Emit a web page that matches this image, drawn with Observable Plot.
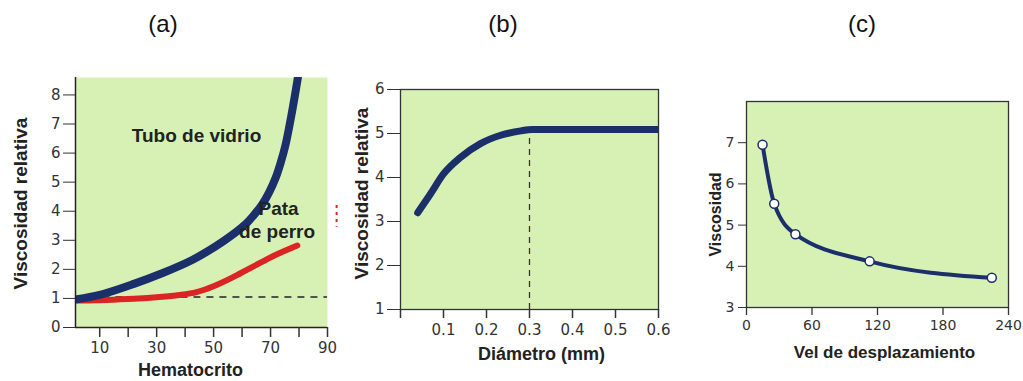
<!DOCTYPE html>
<html>
<head>
<meta charset="utf-8">
<script src="https://cdn.jsdelivr.net/npm/d3@7"></script>
<script src="https://cdn.jsdelivr.net/npm/@observablehq/plot@0.6"></script>
<style>
  body { margin: 0; background: #fff; }
  #wrap { position: relative; width: 1023px; height: 381px; overflow: hidden; font-family: "Liberation Sans", Arial, sans-serif; }
  .title { position: absolute; top: 10px; font-size: 24px; color: #111; transform: translateX(-50%); }
  .panel { position: absolute; top: 0; }
</style>
</head>
<body>
<div id="wrap"></div>
<script>
// ---- Data ----
const titles = ["(a)", "(b)", "(c)"];

// Panel (a)
const hematoTubo = [2, 10, 22, 31, 43, 53.6, 61.2, 64, 67.1, 69.5, 71.8, 73.5, 75.3, 77.6, 79.6];
const viscTubo   = [0.97, 1.12, 1.5, 1.83, 2.35, 2.98, 3.55, 3.85, 4.24, 4.65, 5.15, 5.65, 6.3, 7.45, 8.6];
const hematoPata = [2, 12, 22, 31, 38, 44, 50, 57, 64, 71, 79.4];
const viscPata   = [0.93, 0.95, 0.99, 1.05, 1.12, 1.22, 1.42, 1.74, 2.1, 2.46, 2.82];
const refLevelA  = 1.05;
const xTicksA = [10, 20, 30, 40, 50, 60, 70, 80, 90];
const yTicksA = [0, 1, 2, 3, 4, 5, 6, 7, 8];

// Panel (b)
const diametro = [0.04, 0.07, 0.10, 0.14, 0.186, 0.233, 0.28, 0.307, 0.6];
const viscDiam = [3.2, 3.63, 4.08, 4.46, 4.77, 4.96, 5.06, 5.09, 5.09];
const diamCrit = 0.3;
const xTicksB = [0, 0.1, 0.2, 0.3, 0.4, 0.5, 0.6];
const yTicksB = [1, 2, 3, 4, 5, 6];

// Panel (c)
const velDesp  = [14.7, 25.4, 44.8, 112.8, 224.7];
const viscVel  = [6.95, 5.52, 4.78, 4.12, 3.72];
const xTicksC = [0, 60, 120, 180, 240];
const yTicksC = [3, 4, 5, 6, 7];

// ---- Styles ----
const GREEN = "#d7f1b5";
const NAVY = "#1b2f6b";
const RED = "#dd2424";
const styleFor = (fs) => ({ fontFamily: "'DejaVu Sans', sans-serif", fontSize: fs + "px", color: "#333", background: "transparent", overflow: "visible" });
const labelFont = "'Liberation Sans', Arial, sans-serif";
const lab = { fontWeight: "bold", fill: "#222", fontFamily: labelFont };
const ylab = { ...lab, frameAnchor: "left", rotate: -90, textAnchor: "middle", lineAnchor: "middle" };
const xlab = { ...lab, frameAnchor: "bottom", textAnchor: "middle", lineAnchor: "middle" };

const wrap = document.getElementById("wrap");
[[163, titles[0]], [503, titles[1]], [862, titles[2]]].forEach(([x, t]) => {
  const d = document.createElement("div");
  d.className = "title"; d.style.left = x + "px"; d.textContent = t; wrap.appendChild(d);
});

function place(svg, left) {
  svg.classList.add("panel");
  svg.style.left = left + "px";
  wrap.appendChild(svg);
}
const intFmt = d3.format("d");

// ---- Panel (a) ----
const tubo = hematoTubo.map((x, i) => ({x, y: viscTubo[i]}));
const pata = hematoPata.map((x, i) => ({x, y: viscPata[i]}));
const xDomA = [1.5, 90];
const pA = Plot.plot({
  width: 340, height: 381,
  marginLeft: 75, marginRight: 13, marginTop: 77, marginBottom: 54,
  style: styleFor(15),
  x: { domain: xDomA },
  y: { domain: [0, 8.6] },
  marks: [
    Plot.frame({ fill: GREEN, stroke: null }),
    Plot.ruleY([refLevelA], { x1: 2, x2: 90, stroke: "#222", strokeWidth: 1.3, strokeDasharray: "7,6" }),
    Plot.line(pata, { x: "x", y: "y", stroke: RED, strokeWidth: 6, curve: "catmull-rom", clip: true }),
    Plot.line(tubo, { x: "x", y: "y", stroke: NAVY, strokeWidth: 8, curve: "catmull-rom", clip: true }),
    Plot.ruleX([xDomA[0]], { stroke: "#222", strokeWidth: 1.5 }),
    Plot.ruleY([0], { stroke: "#222", strokeWidth: 1.5 }),
    Plot.axisY({ ticks: yTicksA, tickFormat: intFmt, tickSize: 12, tickPadding: 3, label: null }),
    Plot.axisX({ ticks: xTicksA, tickFormat: d => (d % 20 === 10 ? d : ""), tickSize: 10, tickPadding: 5, label: null, strokeWidth: 1.5 }),
    Plot.text(["Tubo de vidrio"], { x: 44, y: 6.6, fontSize: 19, ...lab }),
    Plot.text(["Pata"], { x: 72.8, y: 4.07, fontSize: 19, ...lab }),
    Plot.text(["de perro"], { x: 72.3, y: 3.3, fontSize: 19, ...lab }),
    Plot.ruleX([93.2], { y1: 4.2, y2: 3.45, stroke: RED, strokeWidth: 2, strokeDasharray: "3,4", clip: false }),
    Plot.text(["Viscosidad relativa"], { ...ylab, dx: -55, dy: 1, fontSize: 19 }),
    Plot.text(["Hematocrito"], { ...xlab, dy: 43, dx: -11, fontSize: 18 })
  ]
});
place(pA, 0);

// ---- Panel (b) ----
const diam = diametro.map((x, i) => ({x, y: viscDiam[i]}));
const pB = Plot.plot({
  width: 330, height: 381,
  marginLeft: 60, marginRight: 12, marginTop: 89, marginBottom: 72,
  style: styleFor(15),
  x: { domain: [0, 0.6] },
  y: { domain: [1, 6] },
  marks: [
    Plot.frame({ fill: GREEN, stroke: "#333", strokeWidth: 1.3 }),
    Plot.ruleX([diamCrit], { y1: 1, y2: 5.05, stroke: "#333", strokeWidth: 1.3, strokeDasharray: "6,5" }),
    Plot.line(diam, { x: "x", y: "y", stroke: NAVY, strokeWidth: 7, curve: "monotone-x", clip: true }),
    Plot.axisY({ ticks: yTicksB, tickFormat: intFmt, tickSize: 13, tickPadding: 3, label: null }),
    Plot.axisX({ ticks: xTicksB, tickFormat: d => (d === 0 ? "" : d3.format(".1f")(d)), tickSize: 9, tickPadding: 6, label: null, strokeWidth: 1.5 }),
    Plot.text(["Viscosidad relativa"], { ...ylab, dx: -39, dy: -6, fontSize: 19 }),
    Plot.text(["Diámetro (mm)"], { ...xlab, dy: 45, dx: 12, fontSize: 18 })
  ]
});
place(pB, 340);

// ---- Panel (c) ----
const vel = velDesp.map((x, i) => ({x, y: viscVel[i]}));
const pC = Plot.plot({
  width: 333, height: 381,
  marginLeft: 56, marginRight: 15, marginTop: 101, marginBottom: 74,
  style: styleFor(14),
  x: { domain: [0, 240] },
  y: { domain: [3, 8] },
  marks: [
    Plot.frame({ fill: GREEN, stroke: "#333", strokeWidth: 1.3 }),
    Plot.line(vel, { x: "x", y: "y", stroke: NAVY, strokeWidth: 4, curve: "monotone-x" }),
    Plot.dot(vel, { x: "x", y: "y", r: 4.5, fill: "#fff", stroke: NAVY, strokeWidth: 1.5 }),
    Plot.axisY({ ticks: yTicksC, tickFormat: intFmt, tickSize: 8, tickPadding: 4, label: null }),
    Plot.axisX({ ticks: xTicksC, tickFormat: intFmt, tickSize: 8, tickPadding: 5, label: null, strokeWidth: 1.3 }),
    Plot.text(["Viscosidad"], { ...ylab, dx: -31, dy: 10, fontSize: 16 }),
    Plot.text(["Vel de desplazamiento"], { ...xlab, dy: 45, dx: 7, fontSize: 17 })
  ]
});
place(pC, 690);
</script>
</body>
</html>
